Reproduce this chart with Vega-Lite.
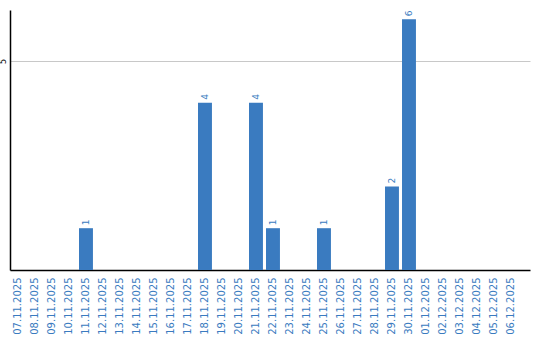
{
  "$schema": "https://vega.github.io/schema/vega-lite/v6.json",
  "width": 520,
  "height": 260,
  "autosize": "none",
  "padding": {"left": 10, "top": 10, "right": 10, "bottom": 70},
  "background": "white",
  "config": {"view": {"stroke": null}, "font": "DejaVu Sans"},
  "data": {
    "values": [
      {"date": "07.11.2025", "count": 0},
      {"date": "08.11.2025", "count": 0},
      {"date": "09.11.2025", "count": 0},
      {"date": "10.11.2025", "count": 0},
      {"date": "11.11.2025", "count": 1},
      {"date": "12.11.2025", "count": 0},
      {"date": "13.11.2025", "count": 0},
      {"date": "14.11.2025", "count": 0},
      {"date": "15.11.2025", "count": 0},
      {"date": "16.11.2025", "count": 0},
      {"date": "17.11.2025", "count": 0},
      {"date": "18.11.2025", "count": 4},
      {"date": "19.11.2025", "count": 0},
      {"date": "20.11.2025", "count": 0},
      {"date": "21.11.2025", "count": 4},
      {"date": "22.11.2025", "count": 1},
      {"date": "23.11.2025", "count": 0},
      {"date": "24.11.2025", "count": 0},
      {"date": "25.11.2025", "count": 1},
      {"date": "26.11.2025", "count": 0},
      {"date": "27.11.2025", "count": 0},
      {"date": "28.11.2025", "count": 0},
      {"date": "29.11.2025", "count": 2},
      {"date": "30.11.2025", "count": 6},
      {"date": "01.12.2025", "count": 0},
      {"date": "02.12.2025", "count": 0},
      {"date": "03.12.2025", "count": 0},
      {"date": "04.12.2025", "count": 0},
      {"date": "05.12.2025", "count": 0},
      {"date": "06.12.2025", "count": 0}
    ]
  },
  "encoding": {
    "x": {
      "field": "date",
      "type": "ordinal",
      "sort": null,
      "scale": {"paddingInner": 0.18, "paddingOuter": 0.384, "align": 0.077},
      "axis": {
        "title": null,
        "labelAngle": 270,
        "labelFontSize": 10,
        "labelColor": "#3a7bc0",
        "labelPadding": 7,
        "ticks": false,
        "domainColor": "#000000",
        "domainWidth": 1.5,
        "grid": false
      }
    },
    "y": {
      "field": "count",
      "type": "quantitative",
      "scale": {"domain": [0, 6.22], "nice": false, "zero": true},
      "axis": {
        "title": null,
        "values": [5],
        "labelAngle": 270,
        "labelFontSize": 8,
        "labelColor": "#000000",
        "labelPadding": 3,
        "ticks": false,
        "domainColor": "#000000",
        "domainWidth": 1.5,
        "grid": true,
        "gridColor": "#c8c8c8",
        "gridWidth": 1
      }
    }
  },
  "layer": [
    {"mark": {"type": "bar", "color": "#3a7bc0"}},
    {
      "transform": [{"filter": "datum.count > 0"}],
      "mark": {
        "type": "text",
        "angle": 270,
        "align": "left",
        "baseline": "middle",
        "dx": 3,
        "fontSize": 9,
        "color": "#3a7bc0"
      },
      "encoding": {"text": {"field": "count", "type": "quantitative"}}
    }
  ]
}
